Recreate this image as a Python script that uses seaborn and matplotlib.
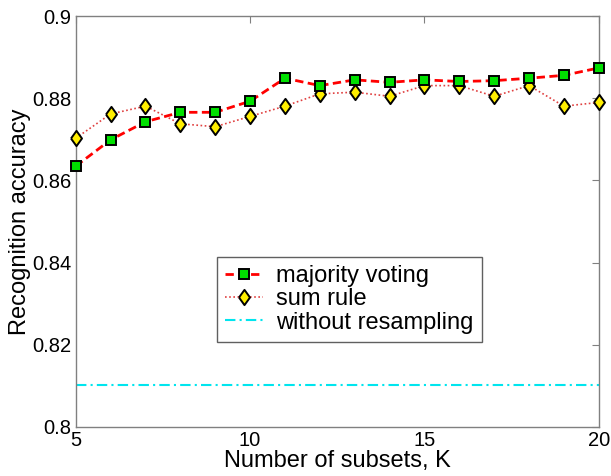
import matplotlib
matplotlib.use("Agg")
import matplotlib.pyplot as plt
import seaborn as sns
import pandas as pd

K = list(range(5, 21))
majority_voting = [0.8635, 0.8699, 0.8743, 0.8766, 0.8766, 0.8793, 0.8849, 0.8831,
                   0.8845, 0.8839, 0.8845, 0.8841, 0.8843, 0.8849, 0.8856, 0.8874]
sum_rule = [0.8703, 0.8762, 0.8781, 0.8738, 0.8731, 0.8756, 0.8781, 0.8811,
            0.8815, 0.8805, 0.8831, 0.8831, 0.8805, 0.8831, 0.8781, 0.8790]
without_resampling = 0.8101
yticks = [0.8, 0.82, 0.84, 0.86, 0.88, 0.9]
ytick_labels = ["0.8", "0.82", "0.84", "0.86", "0.88", "0.9"]
xticks = [5, 10, 15, 20]

sns.set_style("white")
plt.rcParams['font.family'] = ['Liberation Sans', 'DejaVu Sans']
plt.rcParams['text.color'] = 'black'
plt.rcParams['axes.labelcolor'] = 'black'
plt.rcParams['xtick.color'] = 'black'
plt.rcParams['ytick.color'] = 'black'

fig = plt.figure(figsize=(6.11, 4.76), dpi=100)
ax = fig.add_axes([0.124, 0.103, 0.856, 0.863])

df_mv = pd.DataFrame({"K": K, "acc": majority_voting})
df_sr = pd.DataFrame({"K": K, "acc": sum_rule})
df_wr = pd.DataFrame({"K": [5, 20], "acc": [without_resampling] * 2})

diamond = [(-0.72, 0), (0, 1), (0.72, 0), (0, -1), (-0.72, 0)]

sns.lineplot(data=df_mv, x="K", y="acc", ax=ax, color="#ff0000", linestyle=(0, (3, 1.6)),
             linewidth=2, marker="s", markersize=6.5, markerfacecolor="#00e000",
             markeredgecolor="black", markeredgewidth=1.4, label="majority voting",
             clip_on=False, zorder=4)
sns.lineplot(data=df_sr, x="K", y="acc", ax=ax, color="#e04040", linestyle=(0, (1, 1.5)),
             linewidth=1.2, marker=diamond, markersize=11, markerfacecolor="#ffee00",
             markeredgecolor="black", markeredgewidth=1.4, label="sum rule",
             clip_on=False, zorder=3)
sns.lineplot(data=df_wr, x="K", y="acc", ax=ax, color="#00e5ee", linestyle=(0, (5, 2, 1, 2)),
             linewidth=1.5, label="without resampling")

ax.set_xlim(5, 20)
ax.set_ylim(0.8, 0.9)
ax.set_xticks(xticks)
ax.set_xticklabels([str(x) for x in xticks])
ax.set_yticks(yticks)
ax.set_yticklabels(ytick_labels)
ax.tick_params(direction="in", length=5, width=0.8, color="#808080", labelcolor="black",
               labelsize=14.5, top=True, right=True, pad=3)
for s in ax.spines.values():
    s.set_color("#808080")
    s.set_linewidth(1)
ax.set_xlabel("Number of subsets, K", fontsize=17, labelpad=0, color="black")
ax.set_ylabel("Recognition accuracy", fontsize=17, labelpad=1, color="black")

leg = ax.legend(loc="upper left", bbox_to_anchor=(0.27, 0.414), fontsize=17,
                frameon=True, fancybox=False, framealpha=1, edgecolor="#606060",
                borderpad=0.35, labelspacing=0.05, handlelength=1.6, handletextpad=0.55,
                borderaxespad=0)
leg.get_frame().set_linewidth(1)
for t in leg.get_texts():
    t.set_color("black")

fig.savefig("out.png", dpi=100)
